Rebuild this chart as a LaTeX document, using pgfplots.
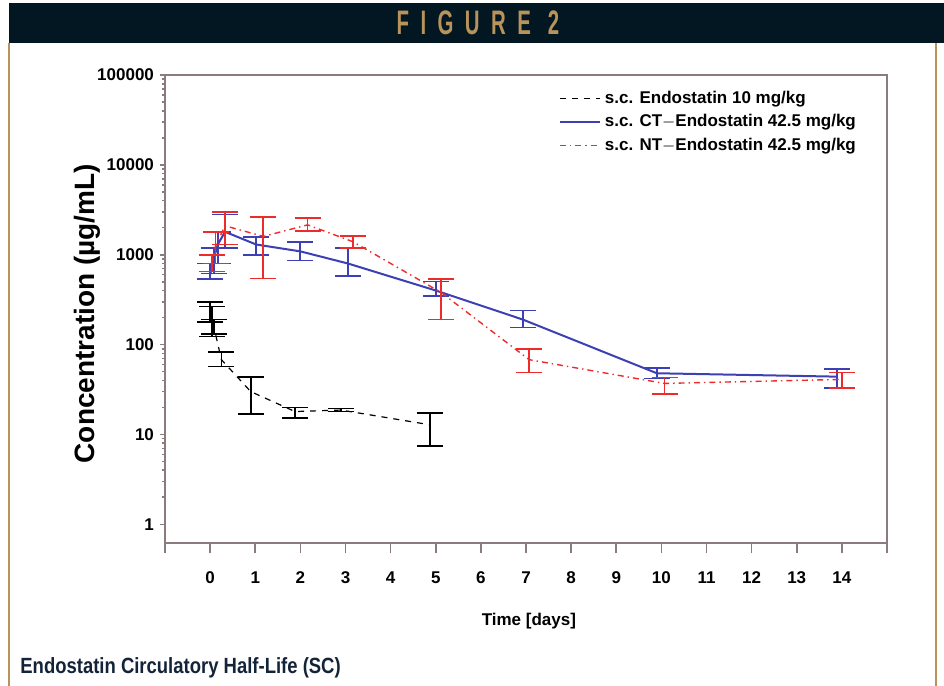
\documentclass[border=0pt]{standalone}
\usepackage{pgfplots}
\usepackage{pgfplotstable}
\usepackage{graphicx}
\pgfplotsset{compat=1.18}
\usepackage{fontspec}
\setmainfont{Liberation Sans}
\definecolor{hdr}{HTML}{031722}
\definecolor{gold}{HTML}{B8935A}
\definecolor{capc}{HTML}{142438}
\definecolor{cblue}{HTML}{3D3FB5}
\definecolor{cred}{HTML}{EE2B2B}
\definecolor{axc}{HTML}{8A7C7C}

\pgfplotstableread{
t y ep em
0.00 230 70 50
0.04 175 91 52
0.08 160 30 30
0.25 68 15 11
0.90 30 14 13
1.88 18 2 2.7
2.90 18.7 0.8 0.7
4.88 12.8 4.6 5.4
}\blackdata

\pgfplotstableread{
t y ep em
0.00 600 200 60
0.08 900 300 280
0.17 1300 500 500
0.33 1800 1000 600
1.02 1300 270 310
2.00 1090 290 225
3.05 800 390 225
5.00 400 105 55
6.93 190 50 35
9.90 48 7 6
13.90 44 10 11
}\bluedata

\pgfplotstableread{
t y ep em
0.04 780 220 130
0.12 1250 550 450
0.33 2100 900 800
1.18 1600 1040 1055
2.16 2150 410 320
3.16 1400 200 200
5.12 380 155 190
7.07 68 22 19
10.07 37 6 9
14.00 41 8 8
}\reddata

\begin{document}
\begin{tikzpicture}[x=0.5pt,y=-0.5pt]
\useasboundingbox (0,0) rectangle (944,686);
\fill[white] (0,0) rectangle (944,686);
\fill[hdr] (9,3) rectangle (944,43);
\draw[gold, line width=1pt] (9,43) -- (9,686);
\draw[gold, line width=1pt] (936,43) -- (936,686);
\node[text=gold, font=\bfseries\fontsize{17}{17}\selectfont] at (478,23)
  {\scalebox{0.6}[1]{\addfontfeature{LetterSpace=56}FIGURE 2}};
\node[anchor=base west, text=capc, font=\bfseries\fontsize{11}{12}\selectfont, inner sep=0pt] at (20,673)
  {\scalebox{0.84}[1]{Endostatin Circulatory Half-Life (SC)}};

\begin{axis}[
  at={(82.5pt,-271.5pt)}, anchor=south west,
  width=361pt, height=234pt, scale only axis,
  ymode=log, xmin=-1, xmax=15, ymin=0.62, ymax=100000,
  xtick={-1,0,1,2,3,4,5,6,7,8,9,10,11,12,13,14,15},
  xticklabels={{},0,1,2,3,4,5,6,7,8,9,10,11,12,13,14,{}},
  ytick={1,10,100,1000,10000,100000},
  yticklabels={1,10,100,1000,10000,100000},
  tick align=outside, xtick pos=left, ytick pos=left,
  major tick length=5pt, minor tick length=1.5pt,
  ytick style={/pgfplots/major tick length=2.5pt},
  axis line style={axc, line width=0.8pt},
  tick style={axc, line width=0.8pt},
  tick label style={font=\bfseries\fontsize{8.5}{9}\selectfont, text=black},
  xticklabel style={yshift=-6pt},
  yticklabel style={xshift=3pt},
  xlabel={Time [days]},
  xlabel style={at={(axis description cs:0.504,-0.167)}, anchor=center, font=\bfseries\fontsize{8.5}{9}\selectfont},
  ylabel={Concentration (µg/mL)},
  ylabel style={at={(axis description cs:-0.108,0.49)}, anchor=center, rotate=0, font=\bfseries\fontsize{14}{15}\selectfont},
  legend cell align=left,
  legend style={draw=none, fill=none, at={(axis description cs:0.545,0.975)}, anchor=north west,
    font=\bfseries\fontsize{8.5}{9}\selectfont, row sep=0pt, inner sep=0pt},
  legend image code/.code={\draw[#1] (0pt,0pt) -- (20pt,0pt);},
  error bars/y dir=both, error bars/y explicit,
]
\addplot[black, line width=0.6pt, dashed, mark=none,
  error bars/error bar style={solid, line width=0.9pt},
  error bars/error mark options={rotate=90, mark size=6.5pt, line width=0.9pt, solid}]
  table[x=t, y=y, y error plus=ep, y error minus=em] {\blackdata};
\addlegendentry{s.c. Endostatin 10 mg/kg}
\addplot[cblue, line width=1pt, mark=none,
  error bars/error bar style={solid, line width=0.9pt},
  error bars/error mark options={rotate=90, mark size=6.5pt, line width=0.9pt, solid}]
  table[x=t, y=y, y error plus=ep, y error minus=em] {\bluedata};
\addlegendentry{s.c. CT$-$Endostatin 42.5 mg/kg}
\addplot[cred, line width=0.7pt, dash dot, mark=none,
  error bars/error bar style={solid, line width=0.9pt},
  error bars/error mark options={rotate=90, mark size=6.5pt, line width=0.9pt, solid}]
  table[x=t, y=y, y error plus=ep, y error minus=em] {\reddata};
\addlegendentry{s.c. NT$-$Endostatin 42.5 mg/kg}
\end{axis}
\end{tikzpicture}
\end{document}
